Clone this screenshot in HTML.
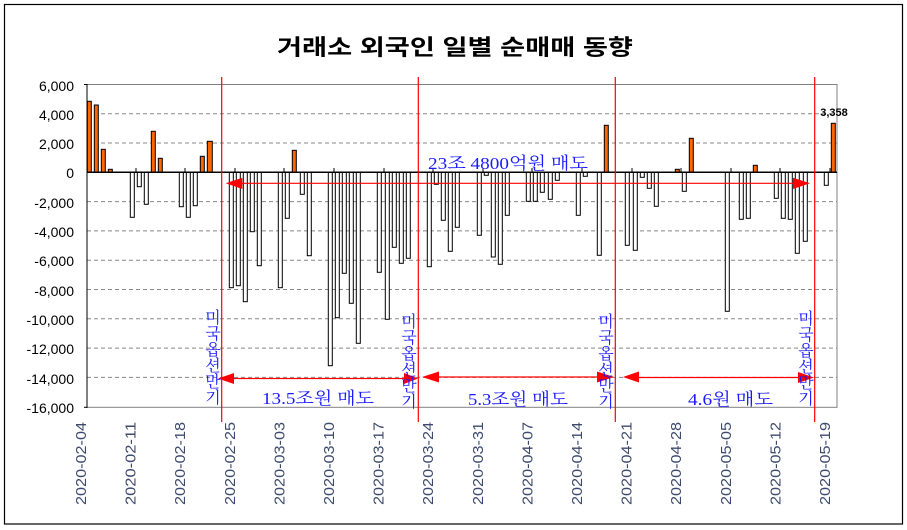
<!DOCTYPE html>
<html><head><meta charset="utf-8"><style>
html,body{margin:0;padding:0;background:#fff;}
svg{display:block;}
</style></head><body>
<svg width="907" height="530" viewBox="0 0 907 530" xmlns="http://www.w3.org/2000/svg">
<rect x="0" y="0" width="907" height="530" fill="#fff"/>
<rect x="4.5" y="4.5" width="898" height="519.5" fill="none" stroke="#000" stroke-width="1.2"/>
<text x="455" y="55" text-anchor="middle" font-family="'Liberation Sans','Noto Sans CJK KR',sans-serif" font-weight="bold" font-size="22" textLength="356" lengthAdjust="spacingAndGlyphs">거래소 외국인 일별 순매매 동향</text>
<!-- grid -->
<g stroke="#888" stroke-dasharray="4,3" stroke-width="1">
<line x1="87" x2="837" y1="113.7" y2="113.7"/><line x1="87" x2="837" y1="143" y2="143"/>
<line x1="87" x2="837" y1="201.6" y2="201.6"/><line x1="87" x2="837" y1="230.9" y2="230.9"/>
<line x1="87" x2="837" y1="260.2" y2="260.2"/><line x1="87" x2="837" y1="289.5" y2="289.5"/>
<line x1="87" x2="837" y1="318.8" y2="318.8"/><line x1="87" x2="837" y1="348.1" y2="348.1"/>
<line x1="87" x2="837" y1="377.4" y2="377.4"/>
</g>
<rect x="87" y="84.5" width="750" height="322.8" fill="none" stroke="#808080" stroke-width="1"/>
<line x1="87" x2="87" y1="84" y2="408" stroke="#000"/>
<g stroke="#000"><line x1="84" x2="87" y1="84.5" y2="84.5"/><line x1="84" x2="87" y1="407.3" y2="407.3"/></g>
<!-- y labels -->
<g font-family="'Liberation Sans',sans-serif" font-size="14" text-anchor="end" fill="#000">
<text x="74" y="91">6,000</text><text x="74" y="120">4,000</text><text x="74" y="149">2,000</text>
<text x="74" y="178">0</text><text x="74" y="208">-2,000</text><text x="74" y="237">-4,000</text>
<text x="74" y="266">-6,000</text><text x="74" y="296">-8,000</text><text x="74" y="325">-10,000</text>
<text x="74" y="354">-12,000</text><text x="74" y="384">-14,000</text><text x="74" y="413">-16,000</text>
</g>
<!-- bars -->
<g stroke="#000" stroke-width="1">
<g fill="#ff6600">
<rect x="87.3" y="101.3" width="4" height="71"/><rect x="94.3" y="105" width="4" height="67.3"/>
<rect x="101.3" y="149.3" width="4" height="23"/><rect x="108.3" y="169.3" width="4" height="3"/>
<rect x="151.3" y="131.3" width="4" height="41"/><rect x="158.3" y="158.3" width="4" height="14"/>
<rect x="200.3" y="156.3" width="4" height="16"/><rect x="207.3" y="141.3" width="5" height="31"/>
<rect x="292.3" y="150.3" width="4" height="22"/><rect x="604.3" y="125.3" width="4" height="47"/>
<rect x="675.3" y="169.3" width="4" height="3"/><rect x="689.3" y="138.3" width="4" height="34"/>
<rect x="753.3" y="165.3" width="4" height="7"/><rect x="831.3" y="123.3" width="4" height="49"/>
</g>
<g fill="#fff">
<rect x="130.3" y="172.3" width="4" height="45"/><rect x="137.3" y="172.3" width="4" height="14.4"/>
<rect x="144.3" y="172.3" width="4" height="32"/><rect x="179.3" y="172.3" width="4" height="34.4"/>
<rect x="186.3" y="172.3" width="4" height="45"/><rect x="193.3" y="172.3" width="4" height="33.4"/>
<rect x="229.3" y="172.3" width="4" height="115.4"/><rect x="236.3" y="172.3" width="4" height="113.4"/>
<rect x="243.3" y="172.3" width="4" height="129.4"/><rect x="250.3" y="172.3" width="4" height="59.4"/>
<rect x="257.3" y="172.3" width="4" height="93.4"/><rect x="278.3" y="172.3" width="4" height="115.4"/>
<rect x="285.3" y="172.3" width="4" height="46"/><rect x="300.3" y="172.3" width="4" height="22"/>
<rect x="307.3" y="172.3" width="4" height="83.4"/><rect x="328.3" y="172.3" width="4" height="193.4"/>
<rect x="335.3" y="172.3" width="4" height="145.4"/><rect x="342.3" y="172.3" width="4" height="101"/>
<rect x="349.3" y="172.3" width="4" height="131"/><rect x="356.3" y="172.3" width="4" height="171"/>
<rect x="377.3" y="172.3" width="4" height="100"/><rect x="385.3" y="172.3" width="4" height="147"/>
<rect x="392.3" y="172.3" width="4" height="75"/><rect x="399.3" y="172.3" width="4" height="91"/>
<rect x="406.3" y="172.3" width="4" height="86"/><rect x="427.3" y="172.3" width="4" height="94.4"/>
<rect x="434.3" y="172.3" width="4" height="12"/><rect x="441.3" y="172.3" width="4" height="48"/>
<rect x="448.3" y="172.3" width="4" height="79"/><rect x="455.3" y="172.3" width="4" height="55"/>
<rect x="477.3" y="172.3" width="4" height="63"/><rect x="484.3" y="172.3" width="4" height="3"/>
<rect x="491.3" y="172.3" width="4" height="84.7"/><rect x="498.3" y="172.3" width="4" height="92"/>
<rect x="505.3" y="172.3" width="4" height="43"/><rect x="526.3" y="172.3" width="4" height="29"/>
<rect x="533.3" y="172.3" width="4" height="29"/><rect x="540.3" y="172.3" width="4" height="20"/>
<rect x="548.3" y="172.3" width="4" height="27"/><rect x="555.3" y="172.3" width="4" height="8"/>
<rect x="576.3" y="172.3" width="4" height="43"/><rect x="583.3" y="172.3" width="4" height="4"/>
<rect x="597.3" y="172.3" width="4" height="83"/><rect x="625.3" y="172.3" width="4" height="73"/>
<rect x="633.3" y="172.3" width="4" height="78"/><rect x="640.3" y="172.3" width="4" height="5"/>
<rect x="647.3" y="172.3" width="4" height="16"/><rect x="654.3" y="172.3" width="4" height="34"/>
<rect x="682.3" y="172.3" width="4" height="19"/><rect x="725.3" y="172.3" width="4" height="139"/>
<rect x="739.3" y="172.3" width="4" height="47"/><rect x="746.3" y="172.3" width="4" height="46"/>
<rect x="774.3" y="172.3" width="4" height="26"/><rect x="781.3" y="172.3" width="4" height="46"/>
<rect x="788.3" y="172.3" width="4" height="47"/><rect x="795.3" y="172.3" width="4" height="81"/>
<rect x="803.3" y="172.3" width="4" height="69"/><rect x="824.3" y="172.3" width="4" height="13"/>
</g>
</g>
<line x1="87" x2="837" y1="172.3" y2="172.3" stroke="#000" stroke-width="1.5"/>
<g stroke="#000"><line x1="136" x2="136" y1="168" y2="172"/><line x1="185" x2="185" y1="168" y2="172"/><line x1="235" x2="235" y1="168" y2="172"/><line x1="284" x2="284" y1="168" y2="172"/><line x1="334" x2="334" y1="168" y2="172"/><line x1="384" x2="384" y1="168" y2="172"/><line x1="433" x2="433" y1="168" y2="172"/><line x1="483" x2="483" y1="168" y2="172"/><line x1="532" x2="532" y1="168" y2="172"/><line x1="582" x2="582" y1="168" y2="172"/><line x1="632" x2="632" y1="168" y2="172"/><line x1="681" x2="681" y1="168" y2="172"/><line x1="731" x2="731" y1="168" y2="172"/><line x1="780" x2="780" y1="168" y2="172"/><line x1="830" x2="830" y1="168" y2="172"/></g>
<text x="834" y="116" text-anchor="middle" font-family="'Liberation Sans',sans-serif" font-weight="bold" font-size="11">3,358</text>
<!-- red verticals -->
<g stroke="#ff0000" stroke-width="1.2">
<line x1="221.7" x2="221.7" y1="77" y2="422"/><line x1="418.3" x2="418.3" y1="77" y2="422"/>
<line x1="615.3" x2="615.3" y1="77" y2="422"/><line x1="814.7" x2="814.7" y1="77" y2="422"/>
<line x1="234" x2="800" y1="183.3" y2="183.3"/>
<line x1="230" x2="408" y1="378.5" y2="378.5"/><line x1="432" x2="605" y1="377" y2="377"/>
<line x1="636" x2="802" y1="377.5" y2="377.5"/>
</g>
<g fill="#ff0000">
<polygon points="225.7,183.3 242.3,177.7 242.3,189"/><polygon points="810,183.3 793,177.7 793,189"/>
<polygon points="218,378.5 234,373 234,384"/><polygon points="418,378.5 404,373 404,384"/>
<polygon points="422,377 439,371.5 439,382.5"/><polygon points="614,377 597,371.5 597,382.5"/>
<polygon points="623,377 639,371.5 639,382.5"/><polygon points="814,377.5 798,372 798,383"/>
</g>
<!-- blue texts -->
<g font-family="'Liberation Serif','Noto Serif CJK KR',serif" font-size="17" fill="#1a1aff">
<text x="428" y="169" textLength="160" lengthAdjust="spacingAndGlyphs">23조 4800억원 매도</text>
<text x="262" y="404" textLength="112" lengthAdjust="spacingAndGlyphs">13.5조원 매도</text>
<text x="468" y="405" textLength="100" lengthAdjust="spacingAndGlyphs">5.3조원 매도</text>
<text x="688" y="405" textLength="85" lengthAdjust="spacingAndGlyphs">4.6원 매도</text>
</g>
<g font-family="'Liberation Serif','Noto Serif CJK KR',serif" font-size="16" fill="#1a1aff" text-anchor="middle">
<text x="213" y="323">미</text><text x="213" y="339">국</text><text x="213" y="355">옵</text><text x="213" y="371">션</text><text x="213" y="387">만</text><text x="213" y="403">기</text>
<text x="409" y="327">미</text><text x="409" y="343">국</text><text x="409" y="359">옵</text><text x="409" y="375">션</text><text x="409" y="391">만</text><text x="409" y="407">기</text>
<text x="606" y="327">미</text><text x="606" y="343">국</text><text x="606" y="359">옵</text><text x="606" y="375">션</text><text x="606" y="391">만</text><text x="606" y="407">기</text>
<text x="806" y="324">미</text><text x="806" y="340">국</text><text x="806" y="356">옵</text><text x="806" y="372">션</text><text x="806" y="388">만</text><text x="806" y="404">기</text>
</g>
<!-- x labels -->
<g font-family="'Liberation Sans',sans-serif" font-size="15" fill="#3d4a6e" text-anchor="end">
<text transform="translate(86,422) rotate(-90)" textLength="83" lengthAdjust="spacingAndGlyphs">2020-02-04</text>
<text transform="translate(135.6,422) rotate(-90)" textLength="83" lengthAdjust="spacingAndGlyphs">2020-02-11</text>
<text transform="translate(185.2,422) rotate(-90)" textLength="83" lengthAdjust="spacingAndGlyphs">2020-02-18</text>
<text transform="translate(234.8,422) rotate(-90)" textLength="83" lengthAdjust="spacingAndGlyphs">2020-02-25</text>
<text transform="translate(284.4,422) rotate(-90)" textLength="83" lengthAdjust="spacingAndGlyphs">2020-03-03</text>
<text transform="translate(334,422) rotate(-90)" textLength="83" lengthAdjust="spacingAndGlyphs">2020-03-10</text>
<text transform="translate(383.6,422) rotate(-90)" textLength="83" lengthAdjust="spacingAndGlyphs">2020-03-17</text>
<text transform="translate(433.2,422) rotate(-90)" textLength="83" lengthAdjust="spacingAndGlyphs">2020-03-24</text>
<text transform="translate(482.8,422) rotate(-90)" textLength="83" lengthAdjust="spacingAndGlyphs">2020-03-31</text>
<text transform="translate(532.4,422) rotate(-90)" textLength="83" lengthAdjust="spacingAndGlyphs">2020-04-07</text>
<text transform="translate(582,422) rotate(-90)" textLength="83" lengthAdjust="spacingAndGlyphs">2020-04-14</text>
<text transform="translate(631.6,422) rotate(-90)" textLength="83" lengthAdjust="spacingAndGlyphs">2020-04-21</text>
<text transform="translate(681.2,422) rotate(-90)" textLength="83" lengthAdjust="spacingAndGlyphs">2020-04-28</text>
<text transform="translate(730.8,422) rotate(-90)" textLength="83" lengthAdjust="spacingAndGlyphs">2020-05-05</text>
<text transform="translate(780.4,422) rotate(-90)" textLength="83" lengthAdjust="spacingAndGlyphs">2020-05-12</text>
<text transform="translate(830,422) rotate(-90)" textLength="83" lengthAdjust="spacingAndGlyphs">2020-05-19</text>
</g>
</svg>
</body></html>
